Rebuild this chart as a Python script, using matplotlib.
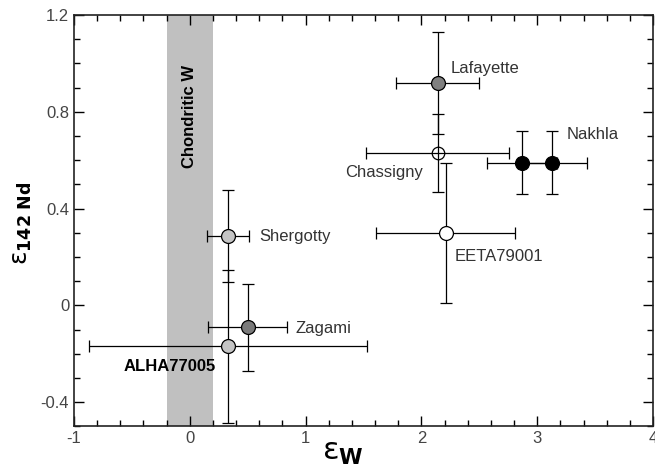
import matplotlib
matplotlib.use('Agg')
import matplotlib.pyplot as plt
from matplotlib.ticker import MultipleLocator, FuncFormatter

plt.rcParams['font.family'] = ['Liberation Sans', 'DejaVu Sans']

# meteorite data (eps W, eps 142Nd) with 2 sigma errors
names = ['Lafayette', 'Chassigny', 'Nakhla', 'Nakhla', 'EETA79001', 'Shergotty', 'Zagami', 'ALHA77005']
ew = [2.14, 2.14, 2.87, 3.13, 2.21, 0.33, 0.50, 0.33]
ew_err = [0.36, 0.62, 0.30, 0.30, 0.60, 0.18, 0.34, 1.20]
end = [0.92, 0.63, 0.59, 0.59, 0.30, 0.285, -0.09, -0.17]
end_err = [0.21, 0.16, 0.13, 0.13, 0.29, 0.19, 0.18, 0.317]
fills = ['#808080', 'white', 'black', 'black', 'white', '#c4c4c4', '#7a7a7a', '#c4c4c4']

fig = plt.figure(figsize=(6.55, 4.69), dpi=100)
ax = fig.add_axes([0.113, 0.091, 0.884, 0.877])

ax.axvspan(-0.2, 0.2, color='#c0c0c0', lw=0, zorder=0)
ax.text(0.0, 0.78, 'Chondritic W', rotation=90, ha='center', va='center',
        fontsize=12, fontweight='bold', color='black')

for i in range(len(names)):
    ax.errorbar(ew[i], end[i], xerr=ew_err[i], yerr=end_err[i], fmt='none',
                ecolor='black', elinewidth=0.9, capsize=4, capthick=0.9, zorder=2)
    if names[i] == 'Chassigny':
        ax.plot(ew[i], end[i], 'o', ms=9, mfc='none', mec='black', mew=0.9, zorder=3)
    else:
        ax.plot(ew[i], end[i], 'o', ms=10, mfc=fills[i], mec='black', mew=0.9, zorder=3)

lab_col = '#333333'
ax.text(2.25, 0.98, 'Lafayette', fontsize=12, color=lab_col, va='center', ha='left')
ax.text(3.25, 0.707, 'Nakhla', fontsize=12, color=lab_col, va='center', ha='left')
ax.text(2.01, 0.548, 'Chassigny', fontsize=12, color=lab_col, va='center', ha='right')
ax.text(2.29, 0.20, 'EETA79001', fontsize=12, color=lab_col, va='center', ha='left')
ax.text(0.60, 0.285, 'Shergotty', fontsize=12, color=lab_col, va='center', ha='left')
ax.text(0.91, -0.095, 'Zagami', fontsize=12, color=lab_col, va='center', ha='left')
ax.text(-0.57, -0.254, 'ALHA77005', fontsize=12, fontweight='bold', color='black',
        va='center', ha='left')

ax.set_xlim(-1, 4)
ax.set_ylim(-0.5, 1.2)
ax.xaxis.set_major_locator(MultipleLocator(1))
ax.xaxis.set_minor_locator(MultipleLocator(0.2))
ax.yaxis.set_major_locator(MultipleLocator(0.4))
ax.yaxis.set_minor_locator(MultipleLocator(0.1))
ax.yaxis.set_major_formatter(FuncFormatter(lambda v, p: '0' if abs(v) < 1e-9 else f'{v:.1f}'))
ax.xaxis.set_major_formatter(FuncFormatter(lambda v, p: f'{v:.0f}'))
ax.tick_params(which='both', direction='in', top=True, right=True, labelsize=12,
               labelcolor='#444444', width=1.0)
ax.tick_params(which='major', length=7)
ax.tick_params(which='minor', length=4)
for s in ax.spines.values():
    s.set_linewidth(1.2)
    s.set_color('#222222')

fig.text(0.524, 0.005, r'$\mathrm{\varepsilon}_{\mathbf{W}}$', fontsize=22, ha='center', va='bottom')
fig.text(0.034, 0.525, r'$\mathrm{\varepsilon}_{\mathbf{142\ Nd}}$', fontsize=18, rotation=90,
         ha='center', va='center')

fig.savefig('out.png', dpi=100)
